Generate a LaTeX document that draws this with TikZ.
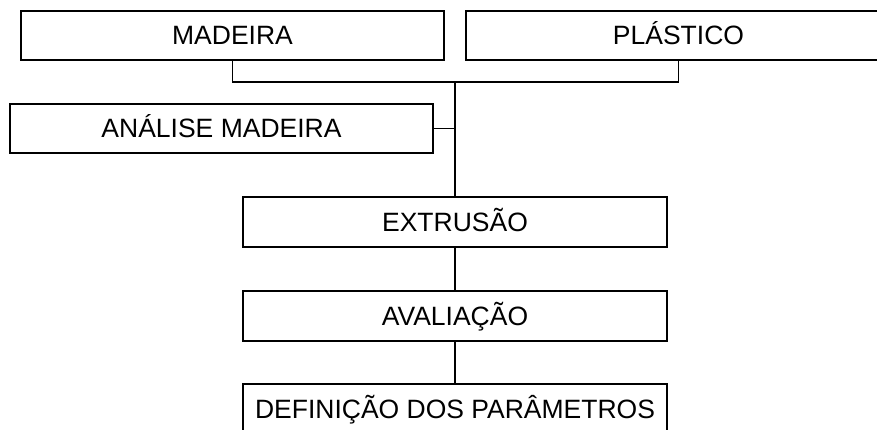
\documentclass[tikz,border=0pt]{standalone}
\usepackage{fontspec}
\setmainfont{Liberation Sans}
\begin{document}
\begin{tikzpicture}[x=1pt,y=-1pt,
  box/.style={draw=black,line width=1.8pt,rectangle,inner sep=0pt,outer sep=0pt,
    text height=19pt,text depth=0pt,
    font=\fontsize{26.5}{30}\selectfont,text=black},
  link/.style={draw=black,line width=1.8pt}]
\useasboundingbox (0,0) rectangle (877,430);
\clip (0,0) rectangle (877,430);
\node[box,minimum width=423pt,minimum height=49pt] (mad) at (232.5,35.5) {MADEIRA};
\node[box,minimum width=425pt,minimum height=49pt] (pla) at (678.5,35.5) {PLÁSTICO};
\node[box,minimum width=423pt,minimum height=49pt] (ana) at (221.5,128.5) {ANÁLISE MADEIRA};
\node[box,minimum width=424pt,minimum height=50pt] (ext) at (455,222) {EXTRUSÃO};
\node[box,minimum width=424pt,minimum height=50pt] (ava) at (455,316) {AVALIAÇÃO};
\node[box,minimum width=424pt,minimum height=50pt] (def) at (455,409) {DEFINIÇÃO DOS PARÂMETROS};
\coordinate (jm) at (455,82);
\coordinate (jl) at (mad.south |- jm);
\coordinate (jr) at (pla.south |- jm);
\coordinate (ja) at (jm |- ana.east);
\draw[link] (mad.south) -- (jl) -- (jr) -- (pla.south);
\draw[link] (jm) -- (ext.north);
\draw[link] (ana.east) -- (ja);
\draw[link] (ext.south) -- (ava.north);
\draw[link] (ava.south) -- (def.north);
\end{tikzpicture}
\end{document}
